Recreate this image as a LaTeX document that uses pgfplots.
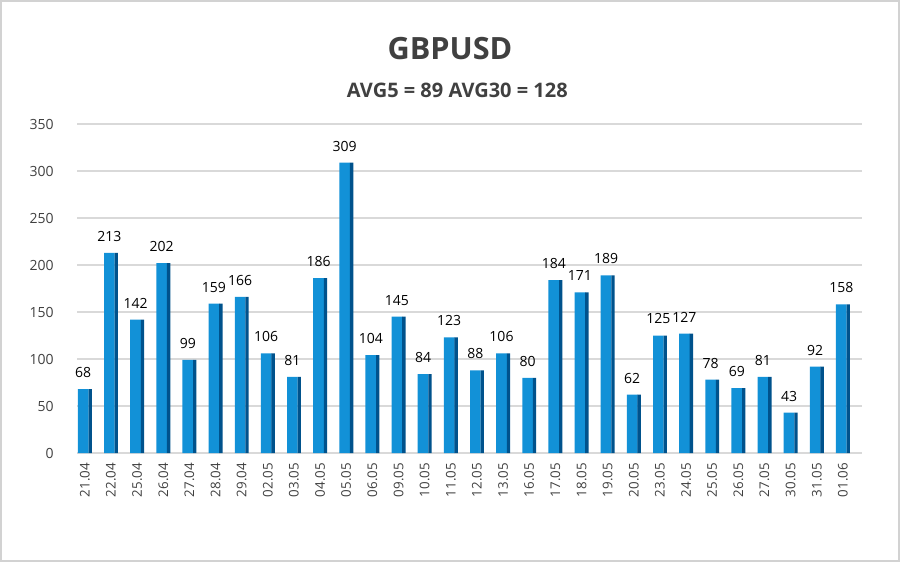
\documentclass[border=0pt]{standalone}
\usepackage{pgfplots}
\pgfplotsset{compat=1.18}
\usepackage{pgfplotstable}
\usepackage{fontspec}
\setmainfont{Open Sans}
\definecolor{barmain}{RGB}{18,145,215}
\definecolor{barside}{RGB}{0,82,140}
\definecolor{gridgray}{RGB}{217,217,217}
\definecolor{txt}{RGB}{64,64,64}

\pgfplotstableread{
x val
0 68
1 213
2 142
3 202
4 99
5 159
6 166
7 106
8 81
9 186
10 309
11 104
12 145
13 84
14 123
15 88
16 106
17 80
18 184
19 171
20 189
21 62
22 125
23 127
24 78
25 69
26 81
27 43
28 92
29 158
}\gbp

\begin{document}
\begin{tikzpicture}[x=1pt,y=1pt]
\useasboundingbox (0,0) rectangle (675,421.5);
\draw[gray!35, line width=1.5pt] (0.75,0.75) rectangle (674.25,420.75);
\node[font=\bfseries\fontsize{23}{27}\selectfont, text=txt] at (337.5,385) {GBPUSD};
\node[font=\bfseries\fontsize{15}{18}\selectfont, text=txt] at (343,353.5) {AVG5 = 89 AVG30 = 128};
\begin{axis}[
    at={(57.75pt,81.75pt)}, anchor=south west,
    scale only axis,
    width=588.75pt, height=246.75pt,
    xmin=-0.3, xmax=29.73,
    ymin=0, ymax=350,
    ytick={0,50,...,350},
    xtick=data,
    xticklabels={21.04,22.04,25.04,26.04,27.04,28.04,29.04,02.05,03.05,04.05,05.05,06.05,09.05,10.05,11.05,12.05,13.05,16.05,17.05,18.05,19.05,20.05,23.05,24.05,25.05,26.05,27.05,30.05,31.05,01.06},
    x tick label style={rotate=90, anchor=east, yshift=0pt, xshift=-4pt, font=\fontsize{10}{12}\selectfont, text=txt},
    y tick label style={xshift=-14pt, font=\fontsize{10.5}{12}\selectfont, text=txt},
    /pgf/number format/assume math mode=true,
    axis line style={draw=none},
    major tick length=0pt,
    ymajorgrids=true,
    grid style={gridgray, line width=0.9pt},
    ybar, bar width=8pt,
    clip=false,
]
\addplot[draw=none, fill=barmain, bar shift=-1.2pt,
    nodes near coords, every node near coord/.append style={font=\fontsize{10.5}{12}\selectfont, text=black, yshift=5pt}]
    table[x=x, y=val] {\gbp};
\addplot[draw=none, fill=barside, bar width=2.5pt, bar shift=4pt] table[x=x, y=val] {\gbp};
\end{axis}
\end{tikzpicture}
\end{document}
